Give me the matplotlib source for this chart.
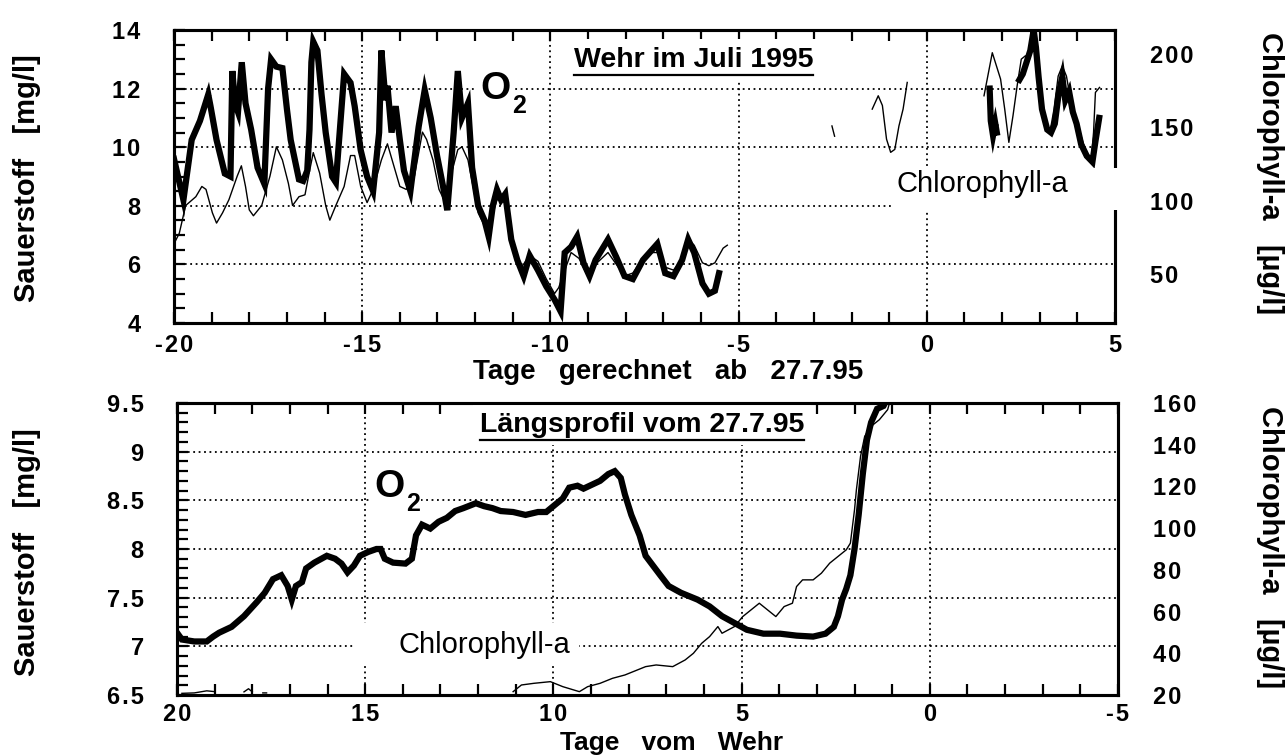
import numpy as np
import matplotlib
matplotlib.use('Agg')
import matplotlib.pyplot as plt
from matplotlib.ticker import MultipleLocator, FixedLocator, FuncFormatter
from matplotlib.patches import Rectangle
from matplotlib.lines import Line2D

nan = np.nan

# --- oberes Bild: Wehr im Juli 1995 (Tage ab 27.7.95) ---
wehr_o2_tage = [-20.0, -19.75, -19.53, -19.31, -19.09, -19.03, -18.87, -18.65, -18.5, -18.45,
                -18.38, -18.3, -18.2, -18.1, -17.95, -17.78, -17.6, -17.5, -17.42, -17.28,
                -17.12, -17.0, -16.9, -16.68, -16.57, -16.46, -16.4, -16.35, -16.3, -16.19,
                -16.08, -15.97, -15.8, -15.7, -15.48, -15.31, -15.2, -15.04, -14.87, -14.71,
                -14.55, -14.49, -14.38, -14.33, -14.22, -14.11, -14.0, -13.89, -13.72, -13.5,
                -13.34, -13.18, -13.01, -12.85, -12.74, -12.57, -12.46, -12.35, -12.19, -12.08,
                -11.92, -11.75, -11.64, -11.53, -11.42, -11.31, -11.2, -11.04, -10.88, -10.71,
                -10.55, -10.33, -10.11, -9.89, -9.73, -9.62, -9.45, -9.29, -9.12, -8.96,
                -8.8, -8.47, -8.25, -8.03, -7.81, -7.54, -7.16, -6.95, -6.73, -6.5,
                -6.34, -6.18, -5.96, -5.79, -5.63, -5.52, nan,
                1.67, 1.7, 1.76, 1.82, 1.86, nan,
                2.46, 2.55, 2.65, 2.75, 2.84, 2.9, 2.97, 3.06, 3.2, 3.3,
                3.4, 3.5, 3.6, 3.68, 3.78, 3.88, 3.98, 4.1, 4.25, 4.4, 4.48, 4.58]
wehr_o2 = [9.6, 8.2, 10.25, 10.9, 11.8, 11.4, 10.25, 9.1, 9.0, 12.6,
           11.5, 11.2, 12.9, 11.5, 10.6, 9.3, 8.75, 12.0, 13.0, 12.75,
           12.7, 11.3, 10.25, 8.9, 8.85, 9.2, 10.6, 12.9, 13.6, 13.3,
           11.8, 10.5, 9.0, 8.8, 12.5, 12.2, 11.4, 9.9, 9.0, 8.5,
           10.5, 13.3, 11.6, 12.1, 10.5, 11.4, 10.25, 9.2, 8.5, 10.7,
           11.95, 11.0, 9.7, 8.65, 7.85, 10.5, 12.6, 11.0, 11.5, 9.3,
           8.0, 7.5, 6.95, 8.0, 8.55, 8.2, 8.4, 6.85, 6.15, 5.6,
           6.3, 5.8, 5.25, 4.8, 4.4, 6.4, 6.6, 6.95, 6.05, 5.6,
           6.15, 6.85, 6.25, 5.6, 5.5, 6.15, 6.7, 5.7, 5.6, 6.15,
           6.85, 6.4, 5.35, 5.0, 5.1, 5.7, nan,
           12.0, 10.9, 10.4, 10.8, 10.5, nan,
           12.3, 12.5, 12.9, 13.3, 14.0, 13.4, 12.4, 11.3, 10.6, 10.5,
           10.8, 11.8, 12.4, 11.6, 11.9, 11.2, 10.8, 10.1, 9.7, 9.5, 10.2, 11.0]

wehr_chl_tage = [-20.0, -19.86, -19.69, -19.42, -19.26, -19.15, -18.98, -18.87, -18.71, -18.54,
                 -18.32, -18.21, -18.1, -18.0, -17.89, -17.67, -17.45, -17.28, -17.12, -16.96,
                 -16.85, -16.68, -16.52, -16.41, -16.3, -16.13, -15.97, -15.86, -15.7, -15.48,
                 -15.31, -15.2, -15.04, -14.87, -14.71, -14.49, -14.33, -14.16, -14.0, -13.83,
                 -13.61, -13.4, -13.29, -13.12, -12.96, -12.79, -12.63, -12.46, -12.35, -12.19,
                 -11.92, -11.75, -11.64, -11.42, -11.2, -10.99, -10.77, -10.55, -10.33, -10.11,
                 -9.89, -9.78, -9.67, -9.45, -9.24, -9.01, -8.8, -8.47, -8.25, -8.03,
                 -7.81, -7.54, -7.38, -7.16, -6.95, -6.73, -6.5, -6.34, -6.18, -5.96,
                 -5.79, -5.63, -5.41, -5.3, nan,
                 -2.52, -2.45, nan,
                 -1.45, -1.29, -1.18, -1.07, -0.96, -0.85, -0.74, -0.63, -0.52, nan,
                 1.52, 1.74, 1.96, 2.07, 2.18, 2.29, 2.4, 2.51, 2.62, 2.73,
                 2.84, 2.95, 3.05, 3.16, 3.27, 3.38, 3.49, 3.6, 3.71, 3.82,
                 3.93, 4.04, 4.15, 4.26, 4.37, 4.43, 4.48, 4.59]
wehr_chl = [70.6, 77.7, 96.7, 102.7, 109.7, 107.7, 91.7, 84.7, 91.7, 100.7,
            116.8, 123.8, 109.7, 93.7, 89.7, 96.7, 116.8, 136.8, 127.8, 111.7,
            96.7, 102.7, 104.0, 118.8, 132.8, 118.8, 96.7, 86.7, 96.7, 109.7,
            130.8, 130.8, 109.7, 98.7, 107.7, 127.8, 138.8, 123.8, 109.7, 107.7,
            117.0, 146.8, 141.8, 127.8, 107.7, 98.7, 118.8, 134.8, 136.8, 127.8,
            91.7, 82.7, 80.7, 100.7, 100.7, 70.6, 54.6, 62.6, 58.6, 46.6,
            36.6, 40.6, 48.6, 64.6, 60.6, 48.6, 56.6, 64.6, 56.6, 48.6,
            50.6, 60.6, 64.6, 64.6, 54.6, 52.6, 59.6, 73.6, 69.6, 57.6,
            55.6, 57.6, 67.6, 69.6, nan,
            151.0, 144.0, nan,
            162.5, 171.6, 165.0, 142.0, 133.0, 135.0, 151.0, 162.5, 180.7, nan,
            171.6, 201.0, 183.0, 162.5, 139.8, 158.0, 178.4, 196.6, 198.9, 196.6,
            212.5, 192.0, 167.0, 151.0, 146.6, 162.5, 185.0, 192.0, 185.0, 169.0,
            158.0, 148.9, 139.8, 130.7, 128.4, 146.6, 173.9, 177.3]

# --- unteres Bild: Laengsprofil vom 27.7.95 (Tage vom Wehr) ---
profil_o2_tage = [20.0, 19.87, 19.54, 19.21, 19.04, 18.88, 18.55, 18.22, 17.89, 17.67,
                  17.45, 17.23, 17.06, 16.95, 16.84, 16.68, 16.57, 16.35, 16.02, 15.8,
                  15.63, 15.47, 15.3, 15.14, 14.92, 14.7, 14.59, 14.48, 14.26, 13.93,
                  13.76, 13.65, 13.49, 13.27, 13.05, 12.83, 12.61, 12.39, 12.06, 11.84,
                  11.62, 11.4, 11.07, 10.74, 10.41, 10.19, 9.97, 9.75, 9.58, 9.36,
                  9.2, 8.98, 8.76, 8.54, 8.37, 8.21, 8.1, 7.93, 7.71, 7.55,
                  7.16, 6.94, 6.61, 6.17, 5.85, 5.52, 5.19, 4.86, 4.42, 3.98,
                  3.54, 3.1, 2.77, 2.55, 2.44, 2.33, 2.22, 2.11, 2.0, 1.89,
                  1.78, 1.67, 1.56, 1.4, 1.23, 1.12]
profil_o2 = [7.14, 7.07, 7.05, 7.05, 7.1, 7.14, 7.2, 7.31, 7.45, 7.55,
             7.69, 7.73, 7.62, 7.48, 7.62, 7.66, 7.8, 7.86, 7.93, 7.9,
             7.85, 7.76, 7.83, 7.93, 7.97, 8.0, 8.0, 7.9, 7.86, 7.85,
             7.9, 8.14, 8.25, 8.21, 8.28, 8.32, 8.39, 8.42, 8.47, 8.44,
             8.42, 8.39, 8.38, 8.35, 8.38, 8.38, 8.45, 8.52, 8.63, 8.65,
             8.62, 8.66, 8.7, 8.77, 8.8, 8.73, 8.56, 8.35, 8.14, 7.93,
             7.73, 7.62, 7.55, 7.48, 7.41, 7.31, 7.24, 7.17, 7.13, 7.13,
             7.11, 7.1, 7.13, 7.2, 7.31, 7.48, 7.59, 7.73, 8.0, 8.35,
             8.77, 9.12, 9.3, 9.44, 9.47, 9.55]

profil_chl_tage = [19.87, 19.54, 19.21, 18.99, nan, 18.22, 18.1, 18.0, nan, 17.72, 17.62, nan,
                   11.07, 10.85, 10.52, 10.08, 9.75, 9.31, 9.09, 8.76, 8.43, 8.1,
                   7.77, 7.55, 7.27, 6.83, 6.5, 6.28, 6.06, 5.85, 5.63, 5.52,
                   5.19, 4.97, 4.75, 4.53, 4.31, 4.09, 3.87, 3.65, 3.54, 3.38,
                   3.1, 2.88, 2.66, 2.44, 2.22, 2.11, 2.0, 1.95, 1.84, 1.73,
                   1.56, 1.34, 1.12, 1.07]
profil_chl = [20.8, 21.0, 22.0, 21.6, nan, 21.5, 23.0, 21.5, nan, 21.0, 21.0, nan,
              21.6, 24.8, 25.6, 26.4, 24.0, 21.6, 24.0, 25.6, 28.0, 29.6,
              32.0, 33.6, 34.4, 33.6, 36.8, 40.0, 44.8, 48.0, 52.8, 49.6,
              52.8, 57.6, 60.8, 64.0, 60.8, 57.6, 62.4, 64.0, 72.0, 75.2,
              75.2, 78.4, 83.2, 86.4, 89.6, 92.8, 108.8, 118.4, 134.4, 144.0,
              148.8, 152.0, 156.8, 160.0]

W, H = 1287, 756
fam = ['Liberation Sans', 'DejaVu Sans']
plt.rcParams['font.family'] = fam
plt.rcParams['font.weight'] = 'bold'

fig = plt.figure(figsize=(W / 100, H / 100), dpi=100)
ax1 = fig.add_axes([174 / W, 1 - 323 / H, 941 / W, 293 / H])
ax2 = fig.add_axes([177 / W, 1 - 695 / H, 941 / W, 292 / H])


def spaced(v, pos):
    s = '%g' % v
    return '\u200a'.join(s)


def setup(ax, xlim, ylim, ymajor, yminor, chl_lim, chl_ticks, xpad):
    ax.set_xlim(*xlim)
    ax.set_ylim(*ylim)
    ax.xaxis.set_major_locator(MultipleLocator(5))
    ax.xaxis.set_minor_locator(MultipleLocator(1))
    ax.yaxis.set_major_locator(MultipleLocator(ymajor))
    ax.yaxis.set_minor_locator(MultipleLocator(yminor))
    ax.xaxis.set_major_formatter(FuncFormatter(spaced))
    ax.yaxis.set_major_formatter(FuncFormatter(spaced))
    ax.tick_params(which='both', direction='in', top=True, right=True,
                   length=8, width=1.6, labelsize=17)
    ax.tick_params(axis='y', pad=24)
    ax.tick_params(axis='x', pad=xpad)
    ax.grid(which='major', ls=(0, (1, 2)), color='k', lw=1.3)
    for sp in ax.spines.values():
        sp.set_linewidth(2.2)
    tw = ax.twinx()
    tw.set_ylim(*chl_lim)
    tw.yaxis.set_major_locator(FixedLocator(chl_ticks))
    tw.yaxis.set_major_formatter(FuncFormatter(spaced))
    tw.tick_params(axis='y', length=0, labelsize=17, pad=25)
    for sp in tw.spines.values():
        sp.set_linewidth(2.2)
    return tw


tw1 = setup(ax1, (-20, 5), (4, 14), 2, 0.5, (16.5, 216.5), [50, 100, 150, 200], 8)
tw2 = setup(ax2, (20, -5), (6.5, 9.5), 0.5, 0.1, (20, 160),
            [20, 40, 60, 80, 100, 120, 140, 160], 6)

ax1.plot(wehr_o2_tage, wehr_o2, color='k', lw=4.5, solid_joinstyle='miter')
tw1.plot(wehr_chl_tage, wehr_chl, color='k', lw=1.0)
ax2.plot(profil_o2_tage, profil_o2, color='k', lw=4.5, solid_joinstyle='miter')
tw2.plot(profil_chl_tage, profil_chl, color='k', lw=1.0)

white = dict(facecolor='white', edgecolor='none', pad=3)

# Titel mit Unterstreichung
t1 = ax1.text(0.552, 0.898, 'Wehr im Juli 1995', transform=ax1.transAxes, ha='center',
              va='center', fontsize=20.5, bbox=dict(facecolor='white', edgecolor='none', pad=6),
              zorder=4)
t2 = ax2.text(0.494, 0.925, 'Längsprofil vom 27.7.95', transform=ax2.transAxes, ha='center',
              va='center', fontsize=20.5, bbox=dict(facecolor='white', edgecolor='none', pad=5),
              zorder=4)

# O2 Beschriftungen
for ax, x, y in [(ax1, 0.326, 0.80), (ax2, 0.21, 0.712)]:
    ax.text(x, y, 'O', transform=ax.transAxes, ha='left', va='center', fontsize=28,
            bbox=white, zorder=4)
    ax.text(x + 0.033, y - 0.058, '2', transform=ax.transAxes, ha='left', va='center',
            fontsize=18, bbox=dict(facecolor='white', edgecolor='none', pad=1), zorder=4)

# Chlorophyll-a Beschriftungen auf weissem Feld
tw1.add_patch(Rectangle((0.764, 0.386), 0.25, 0.143, transform=tw1.transAxes,
                        facecolor='white', edgecolor='none', clip_on=False, zorder=5))
tw1.text(0.768, 0.474, 'Chlorophyll-a', transform=tw1.transAxes, ha='left', va='center',
         fontsize=21, fontweight='normal', zorder=6)
tw2.add_patch(Rectangle((0.189, 0.11), 0.238, 0.137, transform=tw2.transAxes,
                        facecolor='white', edgecolor='none', clip_on=False, zorder=5))
tw2.text(0.235, 0.171, 'Chlorophyll-a', transform=tw2.transAxes, ha='left', va='center',
         fontsize=21, fontweight='normal', zorder=6)

# Achsentitel
fig.text(668 / W, 1 - 372 / H, 'Tage   gerechnet   ab   27.7.95', ha='center', va='center',
         fontsize=20)
fig.text(672 / W, 1 - 743 / H, 'Tage   vom   Wehr', ha='center', va='center', fontsize=19)
fig.text(27 / W, 1 - 178 / H, 'Sauerstoff   [mg/l]', ha='center', va='center',
         rotation=90, fontsize=21)
fig.text(27 / W, 1 - 552 / H, 'Sauerstoff   [mg/l]', ha='center', va='center',
         rotation=90, fontsize=21)
fig.text(1270 / W, 1 - 173 / H, 'Chlorophyll-a   [µg/l]', ha='center', va='center',
         rotation=-90, fontsize=21)
fig.text(1270 / W, 1 - 547 / H, 'Chlorophyll-a   [µg/l]', ha='center', va='center',
         rotation=-90, fontsize=21)

fig.canvas.draw()
r = fig.canvas.get_renderer()
for t in (t1, t2):
    bb = t.get_window_extent(r)
    fig.add_artist(Line2D([bb.x0, bb.x1], [bb.y0 - 2, bb.y0 - 2], transform=None,
                          color='k', lw=1.6))

fig.savefig('out.png', dpi=100, facecolor='white')
